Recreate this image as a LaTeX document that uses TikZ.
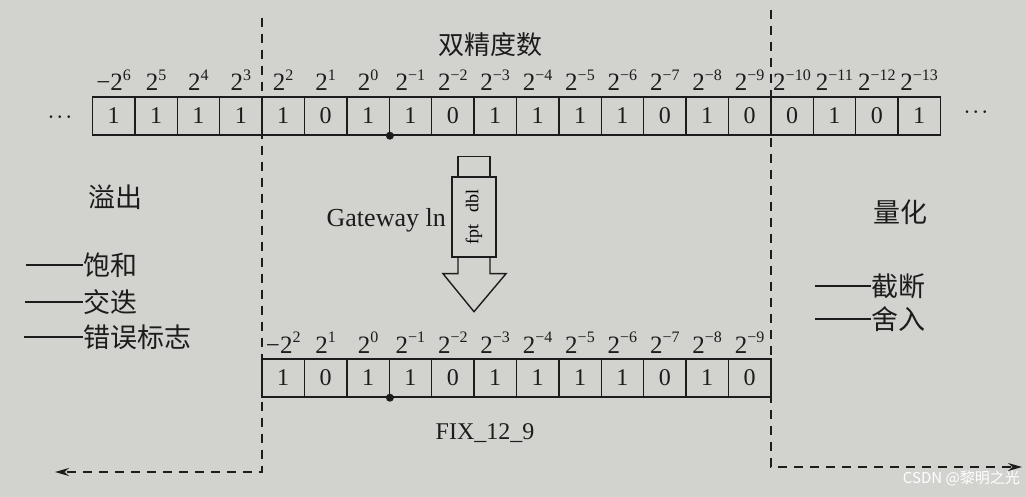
\documentclass[tikz,border=0pt]{standalone}
\usepackage{fontspec}
\setmainfont{Liberation Serif}
\newfontfamily\cjk{Noto Sans CJK SC}
\usetikzlibrary{arrows.meta}
\definecolor{bgc}{RGB}{210,210,207}
\definecolor{ink}{RGB}{28,28,28}
\newcommand\pw[1]{\raisebox{0.42em}{\fontsize{16}{16}\selectfont #1}}
\begin{document}
\begin{tikzpicture}[x=1pt,y=-1pt,
  cell/.style={draw=ink, line width=1.4pt, minimum width=42.4pt, minimum height=38pt,
    inner sep=0pt, text=ink, font=\fontsize{24}{24}\selectfont},
  lab/.style={anchor=base, inner sep=0pt, text=ink, font=\fontsize{25}{25}\selectfont},
  zh/.style={inner sep=0pt, text=ink, font=\cjk\fontsize{27}{27}\selectfont},
  serif/.style={inner sep=0pt, text=ink, font=\fontsize{24}{24}\selectfont},
  dots/.style={text=ink, inner sep=0pt, font=\fontsize{17}{17}\selectfont\boldmath},
  dashline/.style={draw=ink, line width=1.8pt, dash pattern=on 9pt off 7pt,
    -{Stealth[length=14pt,width=8pt]}},
  lead/.style={draw=ink, line width=1.3pt},
  blk/.style={draw=ink, line width=1.4pt, line join=miter}]
\useasboundingbox (0,0) rectangle (1026,497);
\fill[bgc] (0,0) rectangle (1026,497);

% dashed separators
\coordinate (lt) at (262,18);
\coordinate (lb) at (262,472);
\coordinate (le) at (55,472);
\coordinate (rt) at (771,10);
\coordinate (rb) at (771,467);
\coordinate (re) at (1022,467);
\draw[dashline] (lt) -- (lb) -- (le);
\draw[dashline] (rt) -- (rb) -- (re);

% title
\node[zh, font=\cjk\fontsize{26}{26}\selectfont] (title) at (490,45) {双精度数};

% top register
\foreach \b [count=\i] in {1,1,1,1,1,0,1,1,0,1,1,1,1,0,1,0,0,1,0,1}
  \node[cell] (t\i) at ({92.4+(\i-0.5)*42.4},116) {\b};
\foreach \l [count=\i] in {−2\pw{6},2\pw{5},2\pw{4},2\pw{3},2\pw{2},2\pw{1},2\pw{0},
  2\pw{−1},2\pw{−2},2\pw{−3},2\pw{−4},2\pw{−5},2\pw{−6},2\pw{−7},2\pw{−8},2\pw{−9},
  2\pw{−10},2\pw{−11},2\pw{−12},2\pw{−13}}
  \node[lab] (tl\i) at ({92.4+(\i-0.5)*42.4},91) {\l};
\node[dots] (tdl) at (60,117) {$\cdots$};
\node[dots] (tdr) at (976,112) {$\cdots$};
\fill[ink] (t7.south east) circle (4pt);

% bottom register
\foreach \b [count=\i] in {1,0,1,1,0,1,1,1,1,0,1,0}
  \node[cell] (b\i) at ({262+(\i-0.5)*42.4},378) {\b};
\foreach \l [count=\i] in {−2\pw{2},2\pw{1},2\pw{0},2\pw{−1},2\pw{−2},2\pw{−3},
  2\pw{−4},2\pw{−5},2\pw{−6},2\pw{−7},2\pw{−8},2\pw{−9}}
  \node[lab] (bl\i) at ({262+(\i-0.5)*42.4},353) {\l};
\fill[ink] (b3.south east) circle (4pt);
\node[serif] (fix) at (485,433) {FIX\_12\_9};

% gateway block arrow
\node[blk, minimum width=44pt, minimum height=80pt, inner sep=0pt] (gw) at (474,217)
  {\rotatebox{90}{\fontsize{18}{18}\selectfont fpt\hspace{0.7em}dbl}};
\draw[blk] (gw.north) ++(-16,0) rectangle ++(32,-20);
\draw[blk] (gw.south) ++(-16,0) -- ++(0,16) -- ++(-15,0) -- ++(31,38) -- ++(32,-38)
  -- ++(-16,0) -- ++(0,-16);
\node[serif, font=\fontsize{26}{26}\selectfont, anchor=east] (gwl) at (446,220) {Gateway ln};

% overflow
\node[zh] (ovf) at (115,197) {溢出};
\node[zh, anchor=west] (o1) at (83,265) {饱和};
\node[zh, anchor=west] (o2) at (83,302) {交迭};
\node[zh, anchor=west] (o3) at (83,337) {错误标志};
\coordinate (o1s) at (26,265);
\coordinate (o2s) at (25,302);
\coordinate (o3s) at (24,337);
\draw[lead] (o1s) -- (o1.west);
\draw[lead] (o2s) -- (o2.west);
\draw[lead] (o3s) -- (o3.west);

% quantization
\node[zh] (qnt) at (900,212) {量化};
\node[zh, anchor=west] (q1) at (871,286) {截断};
\node[zh, anchor=west] (q2) at (871,319) {舍入};
\coordinate (q1s) at (815,286);
\coordinate (q2s) at (815,319);
\draw[lead] (q1s) -- (q1.west);
\draw[lead] (q2s) -- (q2.west);

% watermark
\node[inner sep=0pt, text=white, font=\cjk\fontsize{15}{15}\selectfont, anchor=east] (wm) at (1020,478) {CSDN @黎明之光};
\end{tikzpicture}
\end{document}
